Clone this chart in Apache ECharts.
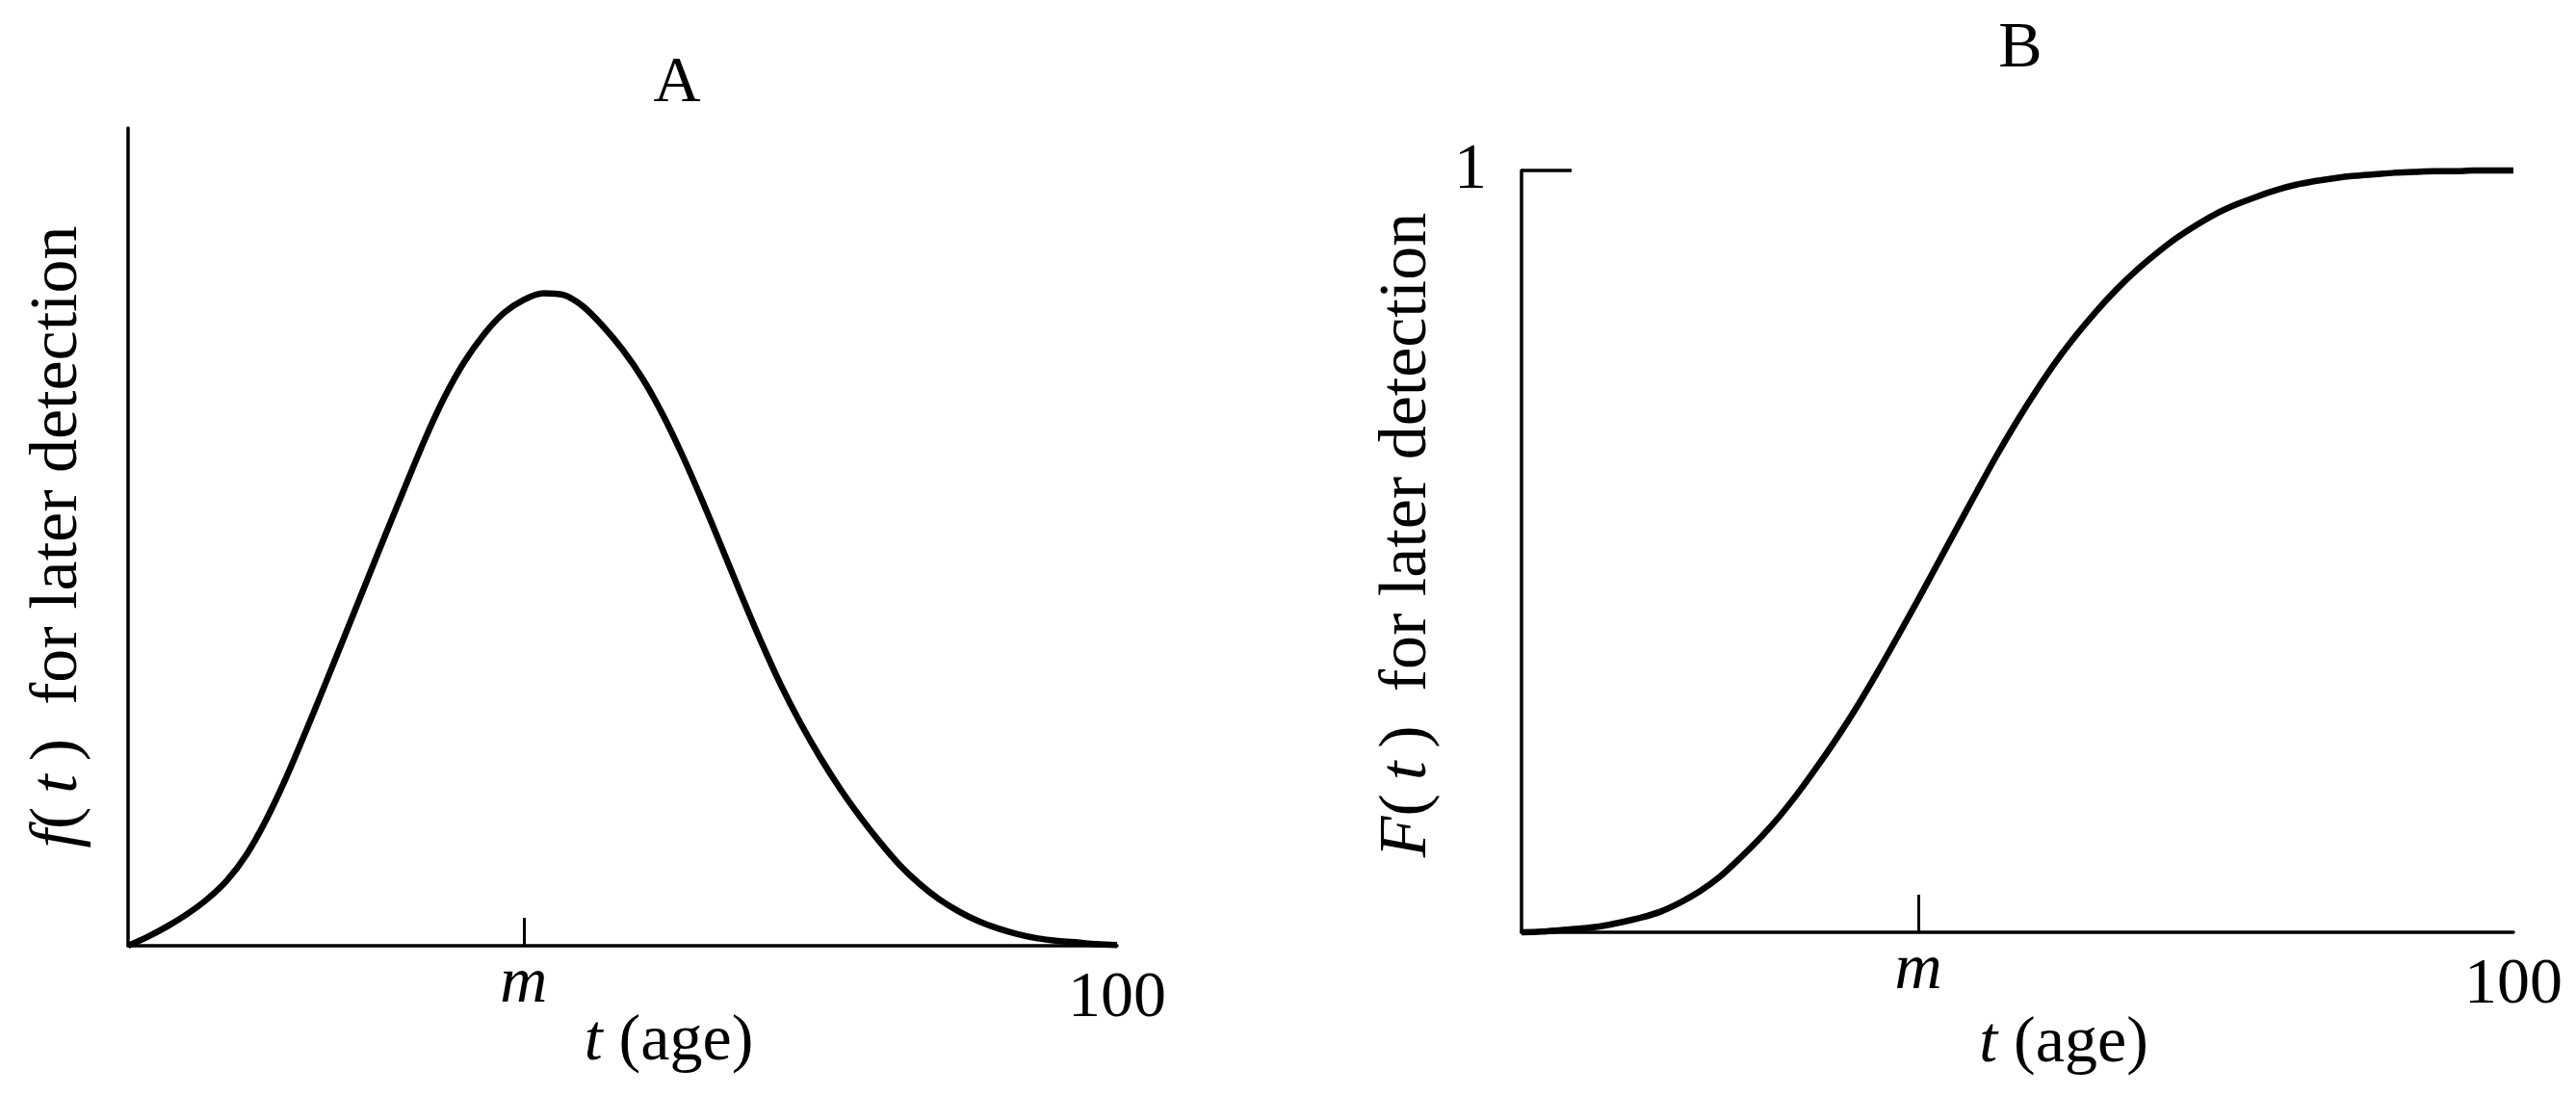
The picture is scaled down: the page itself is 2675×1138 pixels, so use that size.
<!DOCTYPE html>
<html>
<head>
<meta charset="utf-8">
<title>f(t) and F(t) for later detection</title>
<script src="https://cdn.jsdelivr.net/npm/echarts@6/dist/echarts.min.js"></script>
<style>
html, body { margin: 0; padding: 0; background: #fff; }
#container { width: 2675px; height: 1138px; }
</style>
</head>
<body>
<div id="container"></div>
<script>
// age axis (t), read every 2 years
var ages = [0, 2, 4, 6, 8, 10, 12, 14, 16, 18, 20, 22, 24, 26, 28, 30, 32, 34, 36, 38, 40,
    42, 44, 46, 48, 50, 52, 54, 56, 58, 60, 62, 64, 66, 68, 70, 72, 74, 76, 78, 80,
    82, 84, 86, 88, 90, 92, 94, 96, 98, 100];

// panel A : density f(t), as share of the y axis height
var densityA = [0, 0.011, 0.024, 0.039, 0.057, 0.080, 0.112, 0.155, 0.206, 0.263, 0.322,
    0.382, 0.442, 0.502, 0.561, 0.619, 0.671, 0.714, 0.748, 0.774, 0.790,
    0.798, 0.796, 0.782, 0.758, 0.729, 0.694, 0.651, 0.601, 0.546, 0.488,
    0.429, 0.372, 0.319, 0.272, 0.230, 0.192, 0.158, 0.127, 0.099, 0.076,
    0.057, 0.042, 0.030, 0.021, 0.014, 0.009, 0.006, 0.004, 0.002, 0.001];

// panel B : cumulative F(t)
var cumulativeB = [0, 0.001, 0.003, 0.005, 0.008, 0.013, 0.019, 0.027, 0.039, 0.054, 0.073,
    0.097, 0.123, 0.152, 0.185, 0.221, 0.259, 0.300, 0.344, 0.390, 0.437,
    0.485, 0.533, 0.581, 0.628, 0.672, 0.713, 0.751, 0.785, 0.816, 0.844,
    0.869, 0.891, 0.911, 0.928, 0.943, 0.955, 0.965, 0.974, 0.981, 0.986,
    0.990, 0.993, 0.995, 0.997, 0.998, 0.999, 0.999, 1.0, 1.0, 1.0];

// tick positions and labels
var medianAge = 40;
var xTickValues = [medianAge, 100];
var xTickLabels = ['m', '100'];
var yTickValuesB = [1];
var yTickLabelsB = ['1'];

var FONT = 'Liberation Serif';
var SIZE = 68;

function pairs(xs, ys) {
    var out = [];
    for (var i = 0; i < xs.length; i++) {
        out.push([xs[i], ys[i]]);
    }
    return out;
}

function xAxisFor(gridIndex, tickLen, nameGap) {
    return {
        type: 'value',
        gridIndex: gridIndex,
        min: 0,
        max: 100,
        splitLine: { show: false },
        axisLine: { show: true, lineStyle: { color: '#000', width: 3.5 } },
        axisTick: {
            show: true,
            inside: true,
            length: tickLen,
            customValues: [medianAge],
            lineStyle: { color: '#000', width: 3 }
        },
        axisLabel: {
            show: true,
            customValues: xTickValues,
            margin: 21,
            formatter: function (v) {
                var idx = xTickValues.indexOf(v);
                return idx === 0 ? '{m|' + xTickLabels[idx] + '}' : '{n|' + xTickLabels[idx] + '}';
            },
            rich: {
                m: { fontFamily: FONT, fontSize: SIZE, fontStyle: 'italic', color: '#000', lineHeight: 38 },
                n: { fontFamily: FONT, fontSize: SIZE, color: '#000', lineHeight: 68 }
            }
        },
        name: '{i|t} (age)',
        nameLocation: 'middle',
        nameGap: nameGap,
        nameMoveOverlap: false,
        nameTextStyle: {
            fontFamily: FONT,
            fontSize: SIZE,
            color: '#000',
            lineHeight: 68,
            padding: [0, 0, 0, 96],
            rich: {
                i: { fontFamily: FONT, fontSize: SIZE, fontStyle: 'italic', color: '#000', lineHeight: 68 }
            }
        }
    };
}

var option = {
    backgroundColor: '#fff',
    animation: false,
    title: [
        { text: 'A', left: 698, top: 48, textAlign: 'center',
          textStyle: { fontFamily: FONT, fontSize: SIZE, fontWeight: 'normal', color: '#000', lineHeight: 68 } },
        { text: 'B', left: 2093, top: 12, textAlign: 'center',
          textStyle: { fontFamily: FONT, fontSize: SIZE, fontWeight: 'normal', color: '#000', lineHeight: 68 } }
    ],
    grid: [
        { left: 133, top: 133, width: 1027, height: 849, outerBoundsMode: 'none' },
        { left: 1580, top: 177, width: 1030, height: 791, outerBoundsMode: 'none' }
    ],
    xAxis: [
        xAxisFor(0, 29, 66),
        xAxisFor(1, 39, 82)
    ],
    yAxis: [
        {
            type: 'value',
            gridIndex: 0,
            min: 0,
            max: 1,
            splitLine: { show: false },
            axisLine: { show: true, lineStyle: { color: '#000', width: 3.5 } },
            axisTick: { show: false },
            axisLabel: { show: false },
            name: '{i|f}(\u2009{i|t}\u2009)\u2002for later detection',
            nameLocation: 'middle',
            nameRotate: 90,
            nameGap: 38,
            nameMoveOverlap: false,
            nameTextStyle: {
                fontFamily: FONT,
                fontSize: 70,
                color: '#000',
                lineHeight: 68,
                rich: {
                    i: { fontFamily: FONT, fontSize: 70, fontStyle: 'italic', color: '#000', lineHeight: 68 }
                }
            }
        },
        {
            type: 'value',
            gridIndex: 1,
            min: 0,
            max: 1,
            splitLine: { show: false },
            axisLine: { show: true, lineStyle: { color: '#000', width: 3.5 } },
            axisTick: {
                show: true,
                inside: true,
                length: 52,
                customValues: yTickValuesB,
                lineStyle: { color: '#000', width: 3.5 }
            },
            axisLabel: {
                show: true,
                customValues: yTickValuesB,
                margin: 36,
                formatter: function (v) { return yTickLabelsB[yTickValuesB.indexOf(v)]; },
                fontFamily: FONT,
                fontSize: SIZE,
                color: '#000'
            },
            name: '{i|F}(\u2009{i|t}\u2009)\u2002for later detection',
            nameLocation: 'middle',
            nameRotate: 90,
            nameGap: 84,
            nameMoveOverlap: false,
            nameTextStyle: {
                fontFamily: FONT,
                fontSize: 70,
                color: '#000',
                lineHeight: 68,
                padding: [0, 0, 0, 34],
                rich: {
                    i: { fontFamily: FONT, fontSize: 70, fontStyle: 'italic', color: '#000', lineHeight: 68 }
                }
            }
        }
    ],
    series: [
        {
            type: 'line',
            xAxisIndex: 0,
            yAxisIndex: 0,
            data: pairs(ages, densityA),
            smooth: 0.3,
            showSymbol: false,
            clip: false,
            lineStyle: { color: '#000', width: 6.5 }
        },
        {
            type: 'line',
            xAxisIndex: 1,
            yAxisIndex: 1,
            data: pairs(ages, cumulativeB),
            smooth: 0.3,
            showSymbol: false,
            clip: false,
            lineStyle: { color: '#000', width: 6.5 }
        }
    ]
};

echarts.init(document.getElementById('container')).setOption(option);
</script>
</body>
</html>
